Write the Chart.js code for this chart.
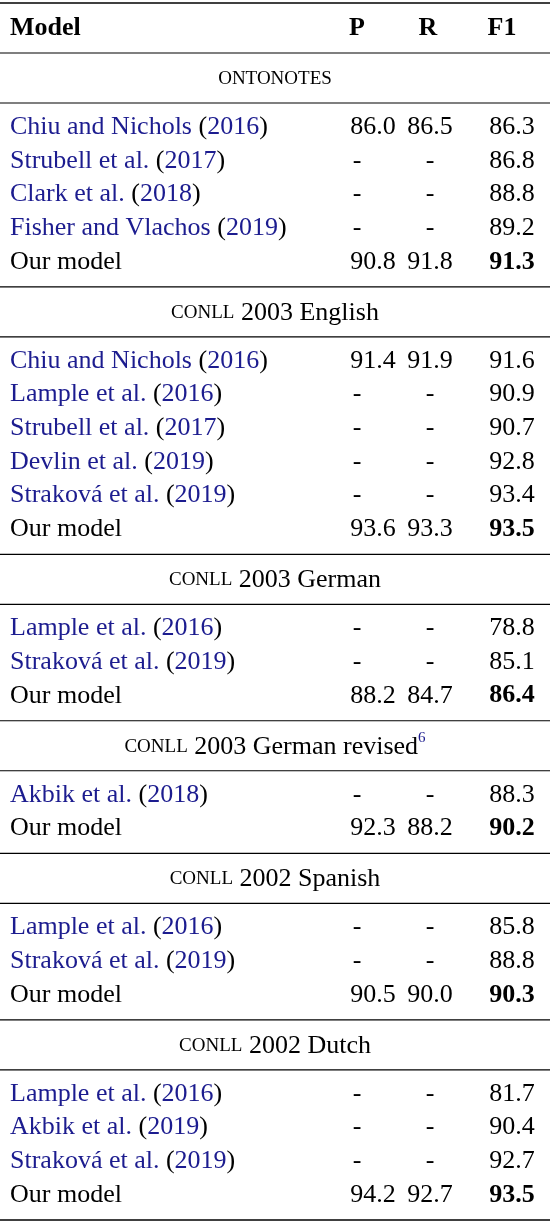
<!DOCTYPE html>
<html><head><meta charset="utf-8">
<script src="https://cdn.jsdelivr.net/npm/chart.js@4"></script>
<style>html,body{margin:0;padding:0;background:#fff}#w{width:550px;height:1222px}</style>
</head><body><div id="w"><canvas id="c"></canvas></div>
<script>
const headers = ["Model","P","R","F1"];
const sectionTitles = [["ONTONOTES",""],["CONLL"," 2003 English"],["CONLL"," 2003 German"],["CONLL"," 2003 German revised"],["CONLL"," 2002 Spanish"],["CONLL"," 2002 Dutch"]];
const models = [
 ["Chiu and Nichols (2016)","Strubell et al. (2017)","Clark et al. (2018)","Fisher and Vlachos (2019)","Our model"],
 ["Chiu and Nichols (2016)","Lample et al. (2016)","Strubell et al. (2017)","Devlin et al. (2019)","Straková et al. (2019)","Our model"],
 ["Lample et al. (2016)","Straková et al. (2019)","Our model"],
 ["Akbik et al. (2018)","Our model"],
 ["Lample et al. (2016)","Straková et al. (2019)","Our model"],
 ["Lample et al. (2016)","Akbik et al. (2019)","Straková et al. (2019)","Our model"]];
const P = [["86.0","-","-","-","90.8"],["91.4","-","-","-","-","93.6"],["-","-","88.2"],["-","92.3"],["-","-","90.5"],["-","-","-","94.2"]];
const R = [["86.5","-","-","-","91.8"],["91.9","-","-","-","-","93.3"],["-","-","84.7"],["-","88.2"],["-","-","90.0"],["-","-","-","92.7"]];
const F1 = [["86.3","86.8","88.8","89.2","91.3"],["91.6","90.9","90.7","92.8","93.4","93.5"],["78.8","85.1","86.4"],["88.3","90.2"],["85.8","88.8","90.3"],["81.7","90.4","92.7","93.5"]];

const rowH = 33.7, topRule = 3, headY = 28, firstRule = 53;
const colX = {model:10, P:373, R:430, F1:512, hP:357, hR:428, hF1:502};
const BLUE = "#1c1c8f";
const FONT = "Liberation Serif, Times New Roman, serif";

const rules = [topRule, firstRule];
const sectionY = [], rowY = [];
let yy0 = firstRule;
models.forEach((m,i)=>{
  sectionY.push(yy0+25); yy0 += 50; rules.push(yy0);
  const rs=[]; m.forEach((_,j)=>{rs.push(yy0+24+j*rowH);}); rowY.push(rs);
  yy0 = yy0 + 24 + (m.length-1)*rowH + 25; rules.push(yy0);
});
const scl = 1220/ yy0;

const ruleDatasets = rules.map((r,i)=>({type:'line',data:[{x:0,y:r*scl},{x:550,y:r*scl}],borderColor:'#000',borderWidth:(i==0||i==rules.length-1)?1.5:1.2,pointRadius:0,fill:false}));

function drawSegs(ctx, segs, x, yy){
  segs.forEach(s=>{ctx.font=s.f; ctx.fillStyle=s.c; ctx.fillText(s.t,x,yy); x+=ctx.measureText(s.t).width;});
  return x;
}
function segsWidth(ctx,segs){let w=0;segs.forEach(s=>{ctx.font=s.f;w+=ctx.measureText(s.t).width;});return w;}

const tablePlugin = {id:'table', afterDatasetsDraw(chart){
  const ctx=chart.ctx, xs=chart.scales.x, ys=chart.scales.y;
  const F = "26px "+FONT, FB="bold 26px "+FONT, SC="19px "+FONT;
  ctx.save(); ctx.textBaseline='middle';
  const hy = ys.getPixelForValue(headY*scl);
  ctx.font=FB; ctx.fillStyle='#000'; ctx.textAlign='left';
  ctx.fillText(headers[0], xs.getPixelForValue(colX.model), hy);
  ctx.textAlign='center';
  ctx.fillText(headers[1], xs.getPixelForValue(colX.hP), hy);
  ctx.fillText(headers[2], xs.getPixelForValue(colX.hR), hy);
  ctx.fillText(headers[3], xs.getPixelForValue(colX.hF1), hy);
  models.forEach((m,i)=>{
    const sy = ys.getPixelForValue(sectionY[i]*scl);
    ctx.textAlign='left';
    const segs=[{t:sectionTitles[i][0],f:SC,c:'#000'},{t:sectionTitles[i][1],f:F,c:'#000'}];
    let w=segsWidth(ctx,segs);
    if(i==3){ctx.font="15px "+FONT; w+=ctx.measureText("6").width;}
    let ex=drawSegs(ctx,segs,275-w/2,sy+1);
    if(i==3){ctx.font="15px "+FONT;ctx.fillStyle=BLUE;ctx.fillText("6",ex,sy-8);}
    m.forEach((name,j)=>{
      const ry=ys.getPixelForValue(rowY[i][j]*scl);
      ctx.textAlign='left';
      const mt=name.match(/^(.*) \((\d{4})\)$/);
      if(mt){drawSegs(ctx,[{t:mt[1]+" ",f:F,c:BLUE},{t:"(",f:F,c:'#000'},{t:mt[2],f:F,c:BLUE},{t:")",f:F,c:'#000'}],xs.getPixelForValue(colX.model),ry);}
      else{ctx.font=F;ctx.fillStyle='#000';ctx.fillText(name,xs.getPixelForValue(colX.model),ry);}
      ctx.textAlign='center';ctx.fillStyle='#000';ctx.font=F;
      const pv=P[i][j], rv=R[i][j];
      ctx.fillText(pv, xs.getPixelForValue(pv=='-'?colX.hP:colX.P), ry);
      ctx.fillText(rv, xs.getPixelForValue(rv=='-'?colX.hR+2:colX.R), ry);
      ctx.font = name=="Our model"?FB:F;
      ctx.fillText(F1[i][j], xs.getPixelForValue(colX.F1), ry);
    });
  });
  ctx.restore();
}};

new Chart(document.getElementById('c'),{
  type:'scatter',
  data:{datasets:ruleDatasets},
  options:{responsive:true,maintainAspectRatio:false,animation:false,
    layout:{padding:0},
    plugins:{legend:{display:false},tooltip:{enabled:false}},
    scales:{x:{type:'linear',min:0,max:550,display:false},y:{type:'linear',min:0,max:1222,reverse:true,display:false}}},
  plugins:[tablePlugin]
});
</script></body></html>
